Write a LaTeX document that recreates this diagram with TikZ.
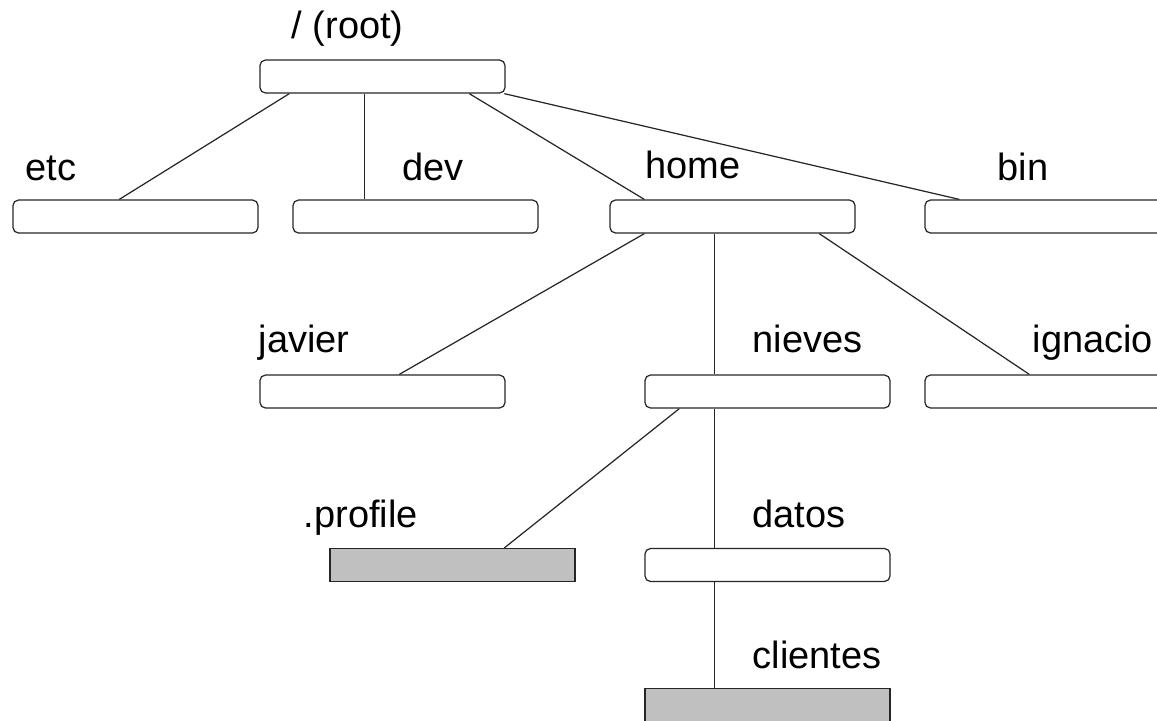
\documentclass[tikz,border=0pt]{standalone}
\usepackage{fontspec}
\setmainfont{Liberation Sans}
\usepackage{xcolor}
\usetikzlibrary{calc}

\definecolor{filegray}{RGB}{192,192,192}

\begin{document}
\begin{tikzpicture}[
  dirbox/.style={draw=black!85,rounded corners=1.6pt,minimum width=2.45cm,minimum height=0.33cm,inner sep=0pt,line width=0.35pt},
  filebox/.style={dirbox,rounded corners=0pt,fill=filegray},
  dirlabel/.style={anchor=base west,inner sep=0pt,font=\fontsize{10.8}{13}\selectfont},
  link/.style={draw=black!85,line width=0.35pt}]
\begin{scope}[x=0.01cm,y=-0.01cm]
  \clip (0,0) rectangle (1157,720);
  % directory boxes
  \foreach \name/\x/\y in {root/382.5/76.5,etc/135.5/216.5,dev/415.5/216.5,home/732.5/216.5,
      bin/1047.5/216.5,javier/382.5/391.5,nieves/767.5/391.5,ignacio/1047.5/391.5,datos/767.5/565} {
    \node[dirbox] (\name) at (\x,\y) {};
  }
  % plain files
  \node[filebox] (profile) at (452.5,565) {};
  \node[filebox] (clientes) at (767.5,705) {};
  % names
  \node[dirlabel] (lroot) at (291,38) {/ (root)};
  \node[dirlabel] (letc) at (25,180) {etc};
  \node[dirlabel] (ldev) at (402,180) {dev};
  \node[dirlabel] (lhome) at (645,178) {home};
  \node[dirlabel] (lbin) at (997,180) {bin};
  \node[dirlabel] (ljavier) at (258,352) {javier};
  \node[dirlabel] (lnieves) at (752,352) {nieves};
  \node[dirlabel] (lignacio) at (1032,352) {ignacio};
  \node[dirlabel] (lprofile) at (303,527) {.profile};
  \node[dirlabel] (ldatos) at (752,527) {datos};
  \node[dirlabel] (lclientes) at (752,668) {clientes};
  % tree links
  \foreach \a/\da/\b/\db in {root/30/etc/107,root/105/dev/72,root/210/home/35,root/245/bin/35,
      home/35/javier/140,home/105/nieves/70,home/210/ignacio/105,
      nieves/35/profile/175,nieves/70/datos/70,datos/70/clientes/70} {
    \draw[link] ($(\a.south west)+(\da,0)$) -- ($(\b.north west)+(\db,0)$);
  }
\end{scope}
\end{tikzpicture}
\end{document}
